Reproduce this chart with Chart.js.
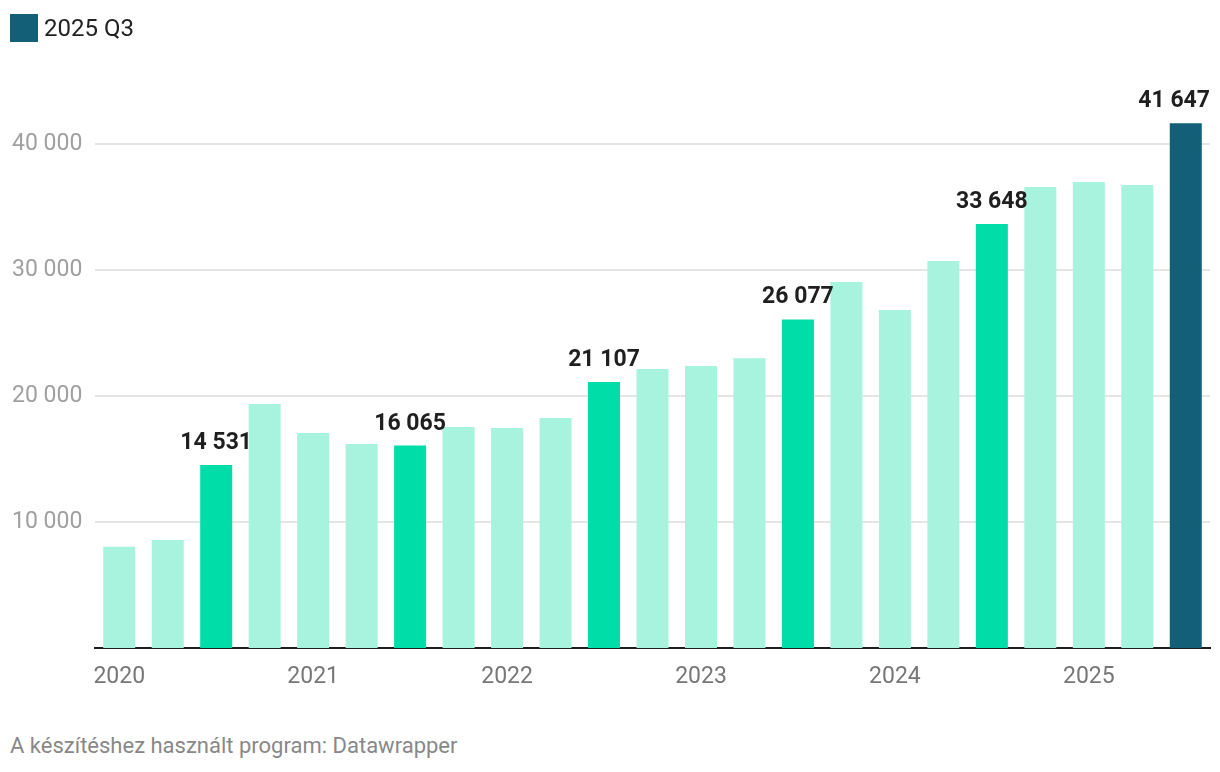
<!DOCTYPE html>
<html>
<head>
<meta charset="utf-8">
<script src="https://cdn.jsdelivr.net/npm/chart.js@4"></script>
<style>
  html, body { margin: 0; padding: 0; background: #fff; }
  body { width: 1220px; height: 772px; position: relative; overflow: hidden; font-family: Roboto, "Noto Sans", sans-serif; }
  #legend { position: absolute; left: 10px; top: 14px; height: 28px; display: flex; align-items: center; }
  #legend .sw { width: 28px; height: 28px; background: #135f78; margin-right: 6px; }
  #legend .tx { font-size: 24px; color: #222; }
  #wrap { position: absolute; left: 0; top: 0; width: 1220px; height: 720px; }
  #footer { position: absolute; left: 10px; top: 733px; font-size: 22px; line-height: 26px; color: #888; }
</style>
</head>
<body>
<div id="wrap"><canvas id="c"></canvas></div>
<div id="legend"><div class="sw"></div><div class="tx">2025 Q3</div></div>
<div id="footer">A készítéshez használt program: Datawrapper</div>
<script>
const categories = [
  "2020 Q1","2020 Q2","2020 Q3","2020 Q4",
  "2021 Q1","2021 Q2","2021 Q3","2021 Q4",
  "2022 Q1","2022 Q2","2022 Q3","2022 Q4",
  "2023 Q1","2023 Q2","2023 Q3","2023 Q4",
  "2024 Q1","2024 Q2","2024 Q3","2024 Q4",
  "2025 Q1","2025 Q2","2025 Q3"
];
const values = [
  8040, 8570, 14531, 19370,
  17060, 16190, 16065, 17540,
  17460, 18250, 21107, 22140,
  22380, 23000, 26077, 29050,
  26830, 30710, 33648, 36590,
  36980, 36750, 41647
];
const labeled = ["2020 Q3","2021 Q3","2022 Q3","2023 Q3","2024 Q3","2025 Q3"];
const current = "2025 Q3";
const yTicks = [10000, 20000, 30000, 40000];

const COLOR_LIGHT = '#a7f3de';
const COLOR_MID = '#00dda8';
const COLOR_DARK = '#135f78';

const fmt = v => String(v).replace(/\B(?=(\d{3})+(?!\d))/g, ' ');

const colors = categories.map(c => c === current ? COLOR_DARK : (labeled.includes(c) ? COLOR_MID : COLOR_LIGHT));

const labelPlugin = {
  id: 'barLabels',
  afterDatasetsDraw(chart) {
    const ctx = chart.ctx;
    const meta = chart.getDatasetMeta(0);
    ctx.save();
    ctx.font = 'bold 23px Roboto, "Noto Sans", sans-serif';
    ctx.fillStyle = '#1f1f1f';
    ctx.textAlign = 'center';
    ctx.textBaseline = 'alphabetic';
    categories.forEach((c, i) => {
      if (!labeled.includes(c)) return;
      const el = meta.data[i];
      const txt = fmt(values[i]);
      const w = ctx.measureText(txt).width;
      let x = el.x;
      const maxRight = chart.width - 10;
      if (x + w / 2 > maxRight) x = maxRight - w / 2;
      ctx.fillText(txt, x, el.y - 16);
    });
    ctx.restore();
  }
};

new Chart(document.getElementById('c'), {
  type: 'bar',
  data: {
    labels: categories,
    datasets: [{
      data: values,
      backgroundColor: colors,
      borderWidth: 0,
      barPercentage: 0.66,
      categoryPercentage: 1
    }]
  },
  options: {
    responsive: true,
    maintainAspectRatio: false,
    animation: false,
    devicePixelRatio: 1,
    layout: { padding: { left: 12, right: 10, top: 81, bottom: 0 } },
    plugins: { legend: { display: false }, tooltip: { enabled: false } },
    scales: {
      x: {
        grid: { display: false },
        border: { display: true, color: '#1d1d1d', width: 2 },
        ticks: {
          autoSkip: false,
          maxRotation: 0,
          padding: 7,
          color: '#777',
          font: { family: 'Roboto', size: 23 },
          callback: function(v, i) {
            const c = categories[i];
            return c.endsWith('Q1') ? c.slice(0, 4) : '';
          }
        },
        afterFit(scale) { scale.height = 72; }
      },
      y: {
        min: 0,
        max: 45000,
        border: { display: false },
        grid: { color: '#e5e5e5', lineWidth: 2, drawTicks: false },
        afterBuildTicks(scale) { scale.ticks = yTicks.map(v => ({ value: v })); },
        ticks: {
          crossAlign: 'far',
          color: '#a0a0a0',
          font: { family: 'Roboto', size: 23 },
          callback: v => fmt(v)
        },
        afterFit(scale) { scale.width = 83; }
      }
    }
  },
  plugins: [labelPlugin]
});
</script>
</body>
</html>
